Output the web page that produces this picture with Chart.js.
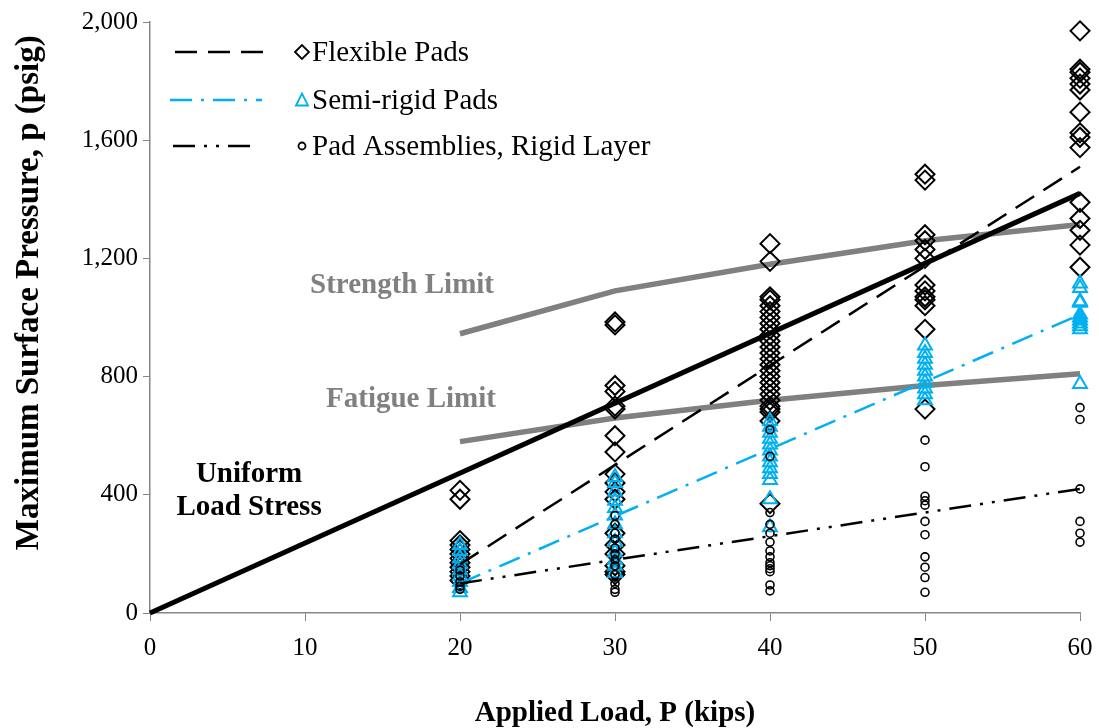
<!DOCTYPE html>
<html><head><meta charset="utf-8">
<script src="https://cdn.jsdelivr.net/npm/chart.js@4"></script>
<style>html,body{margin:0;padding:0;background:#fff;}#wrap{width:1099px;height:728px;position:relative;}</style>
</head><body><div id="wrap"><canvas id="c" width="1099" height="728"></canvas></div>
<script>
// ---- data ----
const loads = [20, 30, 40, 50, 60];
const flexible = [
  [415, 385, 245, 230, 215, 200, 185, 170, 155, 140, 125, 110],
  [985, 975, 770, 750, 700, 690, 600, 545, 470, 440, 410, 385, 270, 230, 200, 160, 140, 130],
  [1250, 1190, 1070, 1060, 1040, 1020, 1000, 980, 960, 940, 920, 900, 880, 860, 840, 820, 800, 780, 760, 740, 720, 700, 690, 680, 650, 370],
  [1485, 1465, 1280, 1260, 1230, 1200, 1110, 1090, 1070, 1060, 1040, 960, 690],
  [1970, 1840, 1830, 1810, 1790, 1770, 1695, 1625, 1610, 1575, 1390, 1335, 1295, 1245, 1170]
];
const semiRigid = [
  [230, 210, 185, 165, 145, 125, 105, 85, 70],
  [460, 440, 410, 380, 355, 330, 300, 270, 240, 205, 180, 160, 135],
  [650, 630, 610, 590, 570, 550, 530, 510, 490, 470, 450, 385, 290],
  [905, 880, 860, 840, 820, 800, 780, 760, 740, 720],
  [1115, 1100, 1055, 1050, 1010, 1000, 990, 980, 970, 960, 775]
];
const padAssemblies = [
  [145, 125, 105, 90, 80],
  [330, 300, 270, 250, 220, 200, 180, 160, 130, 100, 80, 70],
  [620, 530, 340, 300, 270, 240, 210, 190, 170, 160, 150, 140, 95, 75],
  [585, 495, 395, 380, 365, 310, 265, 190, 155, 120, 70],
  [695, 655, 420, 310, 270, 240]
];
const trendLoads = [20, 60];
const flexibleTrend = [165, 1510];
const semiRigidTrend = [100, 1010];
const padTrend = [100, 420];
const uniformLoads = [0, 60];
const uniformStress = [0, 1420];
const limitLoads = [20, 30, 40, 50, 60];
const strengthLimit = [945, 1090, 1180, 1260, 1315];
const fatigueLimit = [580, 660, 720, 770, 810];
const xTicks = [0, 10, 20, 30, 40, 50, 60];
const yTicks = [0, 400, 800, 1200, 1600, 2000];
const legendLabels = ['Flexible Pads', 'Semi-rigid Pads', 'Pad Assemblies, Rigid Layer'];

// ---- helpers ----
function scatterPts(vals) { const out = []; loads.forEach((x, i) => vals[i].forEach(v => out.push({x: x, y: v}))); return out; }
function linePts(xs, ys) { return xs.map((x, i) => ({x: x, y: ys[i]})); }

const BLUE = '#00B0F0';
const GREY = '#808080';
const SERIF = '"Liberation Serif", "Times New Roman", serif';
const DASH = [22, 11];
const DASHDOT = [22, 9, 3, 9];
const DASHDOTDOT = [22, 9, 3, 9, 3, 9];

const annotate = {
  id: 'annotate',
  afterDatasetsDraw(chart) {
    const ctx = chart.ctx, xs = chart.scales.x, ys = chart.scales.y;
    ctx.save();
    ctx.textAlign = 'center'; ctx.textBaseline = 'middle';
    ctx.font = 'bold 29px ' + SERIF;
    ctx.fillStyle = GREY;
    ctx.fillText('Strength Limit', xs.getPixelForValue(16.26), ys.getPixelForValue(1108));
    ctx.fillText('Fatigue Limit', xs.getPixelForValue(16.84), ys.getPixelForValue(724));
    ctx.fillStyle = '#000';
    ctx.fillText('Uniform', xs.getPixelForValue(6.39), ys.getPixelForValue(468));
    ctx.fillText('Load Stress', xs.getPixelForValue(6.39), ys.getPixelForValue(357));
    // legend
    const rows = [
      {dash: DASH, color: '#000', style: 'diamond', x0: 175, x1: 264, y: 52},
      {dash: DASHDOT, color: BLUE, style: 'triangle', x0: 170, x1: 262, y: 100},
      {dash: DASHDOTDOT, color: '#000', style: 'circle', x0: 173, x1: 258, y: 146}
    ];
    rows.forEach((r, i) => {
      ctx.beginPath(); ctx.setLineDash(r.dash); ctx.lineWidth = 2.5; ctx.strokeStyle = r.color;
      ctx.moveTo(r.x0, r.y); ctx.lineTo(r.x1, r.y); ctx.stroke();
      ctx.setLineDash([]);
      ctx.lineWidth = 1.8;
      ctx.beginPath();
      const mx = 302, my = r.y;
      if (r.style === 'diamond') {
        ctx.moveTo(mx - 7, my); ctx.lineTo(mx, my - 7); ctx.lineTo(mx + 7, my); ctx.lineTo(mx, my + 7); ctx.closePath();
      } else if (r.style === 'triangle') {
        ctx.moveTo(mx - 6, my + 5.5); ctx.lineTo(mx, my - 6.5); ctx.lineTo(mx + 6, my + 5.5); ctx.closePath();
      } else {
        ctx.arc(mx, my, 3.5, 0, Math.PI * 2);
      }
      ctx.stroke();
      ctx.fillStyle = '#000'; ctx.textAlign = 'left'; ctx.textBaseline = 'middle';
      ctx.font = '29px ' + SERIF;
      ctx.fillText(legendLabels[i], 312, r.y + 1);
    });
    ctx.restore();
  }
};

new Chart(document.getElementById('c'), {
  type: 'scatter',
  data: {
    datasets: [
      {label: 'Strength Limit', data: linePts(limitLoads, strengthLimit), showLine: true, borderColor: GREY, borderWidth: 5.5, pointRadius: 0, order: 20, clip: false},
      {label: 'Fatigue Limit', data: linePts(limitLoads, fatigueLimit), showLine: true, borderColor: GREY, borderWidth: 5.5, pointRadius: 0, order: 19, clip: false},
      {label: legendLabels[0], data: scatterPts(flexible), pointStyle: 'rectRot', pointRadius: 9.5, borderColor: '#000', backgroundColor: 'rgba(0,0,0,0)', pointBorderWidth: 2, order: 15, clip: false},
      {label: legendLabels[1], data: scatterPts(semiRigid), pointStyle: 'triangle', pointRadius: 8, borderColor: BLUE, backgroundColor: 'rgba(0,0,0,0)', pointBorderWidth: 2, order: 14, clip: false},
      {label: legendLabels[2], data: scatterPts(padAssemblies), pointStyle: 'circle', pointRadius: 4, borderColor: '#000', backgroundColor: 'rgba(0,0,0,0)', pointBorderWidth: 1.6, order: 13, clip: false},
      {label: 'Flexible trend', data: linePts(trendLoads, flexibleTrend), showLine: true, borderColor: '#000', borderWidth: 2.5, borderDash: DASH, pointRadius: 0, order: 5, clip: false},
      {label: 'Semi-rigid trend', data: linePts(trendLoads, semiRigidTrend), showLine: true, borderColor: BLUE, borderWidth: 2.5, borderDash: DASHDOT, pointRadius: 0, order: 4, clip: false},
      {label: 'Pad trend', data: linePts(trendLoads, padTrend), showLine: true, borderColor: '#000', borderWidth: 2.5, borderDash: DASHDOTDOT, pointRadius: 0, order: 3, clip: false},
      {label: 'Uniform Load Stress', data: linePts(uniformLoads, uniformStress), showLine: true, borderColor: '#000', borderWidth: 5, pointRadius: 0, order: 1, clip: false}
    ]
  },
  options: {
    responsive: false, animation: false, devicePixelRatio: 1,
    layout: {padding: {left: 0, right: 19, top: 22, bottom: 0}},
    plugins: {legend: {display: false}, tooltip: {enabled: false}},
    scales: {
      x: {
        type: 'linear', min: 0, max: 60,
        afterBuildTicks: s => { s.ticks = xTicks.map(v => ({value: v})); },
        afterFit: s => { s.height = 115; s.paddingLeft = 0; s.paddingRight = 0; },
        grid: {drawOnChartArea: false, drawTicks: true, tickLength: 8, color: '#868686', lineWidth: 1},
        border: {color: '#868686', width: 1.5},
        ticks: {font: {family: SERIF, size: 25}, color: '#000', padding: 12, maxRotation: 0},
        title: {display: true, text: 'Applied Load, P (kips)', font: {family: SERIF, size: 29, weight: 'bold'}, color: '#000', padding: {top: 0, bottom: -3}}
      },
      y: {
        type: 'linear', min: 0, max: 2000,
        afterBuildTicks: s => { s.ticks = yTicks.map(v => ({value: v})); },
        afterFit: s => { s.width = 150; s.paddingTop = 0; s.paddingBottom = 0; },
        grid: {drawOnChartArea: false, drawTicks: true, tickLength: 7, color: '#868686', lineWidth: 1},
        border: {color: '#868686', width: 1.5},
        ticks: {font: {family: SERIF, size: 25}, color: '#000', padding: 5, callback: v => v.toLocaleString('en-US')},
        title: {display: true, text: '      Maximum Surface Pressure, p (psig)', font: {family: SERIF, size: 33, weight: 'bold'}, color: '#000', padding: {top: 10, bottom: 0}}
      }
    }
  },
  plugins: [annotate]
});
</script></body></html>
